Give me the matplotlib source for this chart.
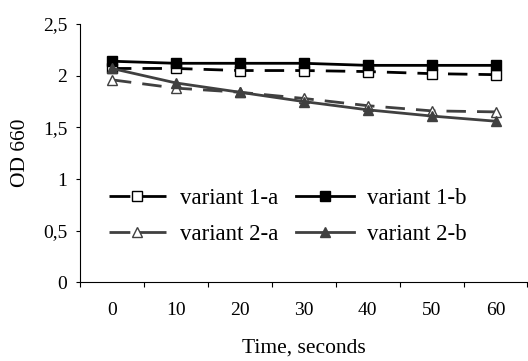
import matplotlib
matplotlib.use("Agg")
import matplotlib.pyplot as plt
import numpy as np

times = ["0", "10", "20", "30", "40", "50", "60"]
v1a = [2.07, 2.07, 2.05, 2.05, 2.04, 2.02, 2.01]
v1b = [2.14, 2.12, 2.12, 2.12, 2.10, 2.10, 2.10]
v2a = [1.96, 1.88, 1.84, 1.78, 1.71, 1.66, 1.65]
v2b = [2.07, 1.93, 1.84, 1.75, 1.67, 1.61, 1.56]
yticks = [0, 0.5, 1, 1.5, 2, 2.5]
ytick_labels = ["0", "0,5", "1", "1,5", "2", "2,5"]

plt.rcParams['font.family'] = ['Liberation Serif', 'DejaVu Serif']

fig = plt.figure(figsize=(5.28, 3.61), dpi=100)
ax = fig.add_axes([0.1515, 0.2175, 0.8475, 0.716])
x = np.arange(len(times))
gray = "#404040"
l1a, = ax.plot(x, v1a, color="black", lw=2, dashes=(7, 4), marker="s", ms=6.5,
               mfc="white", mec="black", mew=1, label="variant 1-a")
l1b, = ax.plot(x, v1b, color="black", lw=2, marker="s", ms=6.5,
               mfc="black", mec="black", label="variant 1-b")
l2a, = ax.plot(x, v2a, color=gray, lw=2, dashes=(7, 4), marker="^", ms=7.5,
               mfc="white", mec=gray, mew=1, label="variant 2-a")
l2b, = ax.plot(x, v2b, color=gray, lw=2, marker="^", ms=7.5,
               mfc=gray, mec=gray, label="variant 2-b")

ax.set_xlim(-0.5, len(times) - 0.5)
ax.set_ylim(0, 2.5)
ax.set_xticks(np.arange(-0.5, len(times) + 0.5, 1))
ax.set_xticklabels([])
ax.set_xticks(x, minor=True)
ax.set_xticklabels(times, minor=True, fontsize=14)
ax.tick_params(axis='x', which='minor', length=0, pad=14)
ax.tick_params(axis='x', which='major', length=3.6, direction='out')
ax.set_yticks(yticks)
ax.set_yticklabels(ytick_labels, fontsize=14)
ax.tick_params(axis='y', length=2.6, direction='out', pad=6.5)
for s in ["top", "right"]:
    ax.spines[s].set_visible(False)
ax.set_xlabel("Time, seconds", fontsize=15.5)
ax.xaxis.set_label_coords(0.5, -0.215)
ax.set_ylabel("OD 660", fontsize=15.5)
ax.yaxis.set_label_coords(-0.112, 0.5)

handles = [l1a, l2a, l1b, l2b]
leg = ax.legend(handles, [h.get_label() for h in handles], ncol=2,
                loc="lower left", bbox_to_anchor=(0.018, 0.066),
                frameon=False, fontsize=16.5, handlelength=2.5,
                handletextpad=0.6, columnspacing=0.8, labelspacing=0.66)
for ln, h in zip(leg.get_lines(), handles):
    if h.get_linestyle() != '-':
        ln.set_linestyle((0, (7.5, 2.5, 40, 1)))
fig.savefig("out.png", dpi=100)
